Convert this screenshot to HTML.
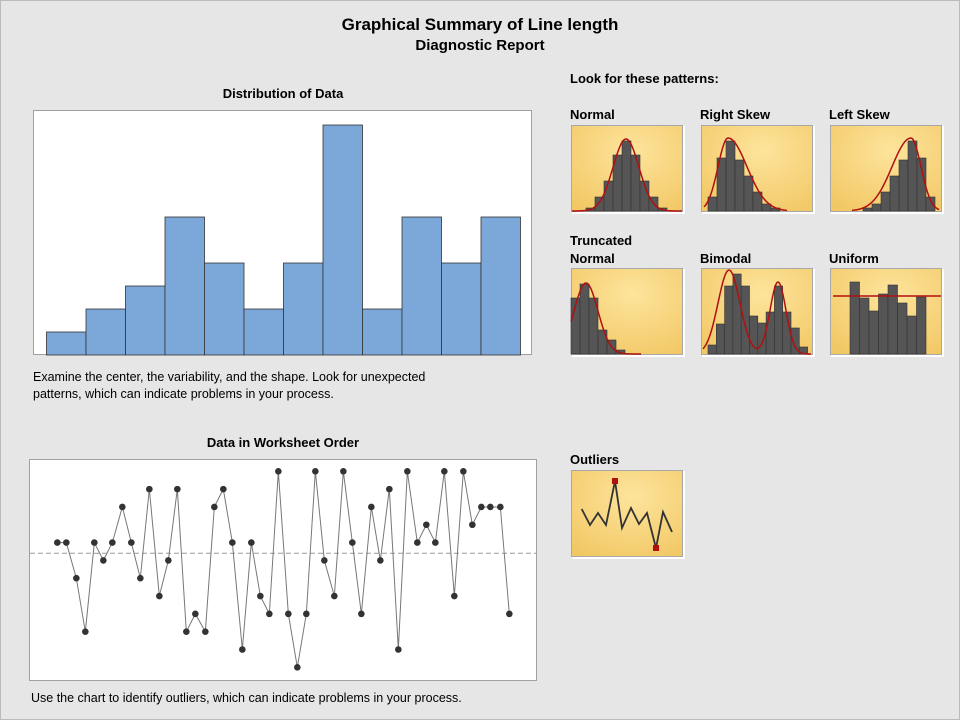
<!DOCTYPE html>
<html><head><meta charset="utf-8"><style>
body{margin:0;background:#e6e6e6;}
svg{display:block;font-family:"Liberation Sans",sans-serif;}
</style></head><body>
<svg id="s" width="960" height="720" viewBox="0 0 960 720" xmlns="http://www.w3.org/2000/svg">
<defs>
<radialGradient id="g" cx="0.55" cy="0.3" r="0.8">
<stop offset="0" stop-color="#fde49c"/><stop offset="1" stop-color="#f2c865"/>
</radialGradient>
</defs>
<rect x="0" y="0" width="960" height="720" fill="#e6e6e6"/>
<rect x="0.5" y="0.5" width="959" height="719" fill="none" stroke="#bbb"/>
<text x="480" y="30" text-anchor="middle" font-size="17" font-weight="bold">Graphical Summary of Line length</text>
<text x="480" y="50" text-anchor="middle" font-size="15" font-weight="bold">Diagnostic Report</text>
<text x="283" y="98" text-anchor="middle" font-size="13" font-weight="bold">Distribution of Data</text>
<rect x="33.5" y="110.5" width="498" height="244" fill="#fff" stroke="#a0a0a0"/>
<g id="hist"></g>
<text x="33" y="381" font-size="12.5">Examine the center, the variability, and the shape. Look for unexpected</text>
<text x="33" y="398" font-size="12.5">patterns, which can indicate problems in your process.</text>
<text x="283" y="447" text-anchor="middle" font-size="13" font-weight="bold">Data in Worksheet Order</text>
<rect x="29.5" y="459.5" width="507" height="221" fill="#fff" stroke="#a0a0a0"/>
<line x1="30" y1="553.3" x2="536" y2="553.3" stroke="#999" stroke-dasharray="5,3"/>
<g id="run"></g>
<text x="31" y="702" font-size="12.5">Use the chart to identify outliers, which can indicate problems in your process.</text>
<text x="570" y="83" font-size="13" font-weight="bold">Look for these patterns:</text>
<text x="570" y="119" font-size="13" font-weight="bold">Normal</text>
<text x="700" y="119" font-size="13" font-weight="bold">Right Skew</text>
<text x="829" y="119" font-size="13" font-weight="bold">Left Skew</text>
<text x="570" y="245" font-size="13" font-weight="bold">Truncated</text>
<text x="570" y="263" font-size="13" font-weight="bold">Normal</text>
<text x="700" y="263" font-size="13" font-weight="bold">Bimodal</text>
<text x="829" y="263" font-size="13" font-weight="bold">Uniform</text>
<text x="570" y="464" font-size="13" font-weight="bold">Outliers</text>
<g id="thumbs"></g>
</svg>
<script>
var NS="http://www.w3.org/2000/svg";
function el(p,t,a){var e=document.createElementNS(NS,t);for(var k in a)e.setAttribute(k,a[k]);p.appendChild(e);return e;}
var h=document.getElementById('hist');
var cnt=[1,2,3,6,4,2,4,10,2,6,4,6];
for(var i=0;i<12;i++){var x0=46+i*39.5;var ht=cnt[i]*23;
el(h,'rect',{x:x0+0.5,y:355-ht,width:39.5,height:ht,fill:'#7ba7d9',stroke:'#333','stroke-width':0.8});}
var r=document.getElementById('run');
var L=[4,4,6,9,4,5,4,2,4,6,1,7,5,1,9,8,9,2,1,4,10,4,7,8,0,8,11,8,0,5,7,0,4,8,2,5,1,10,0,4,3,4,0,7,0,3,2,2,2,8];
var xs=[88,115,145,172,199,226,253,283,310,337,364,394,421,448,475,502,532,559,586,613,643,670,697,724,751,781,808,835,862,889,919,946,973,1000,1030,1057,1084,1111,1138,1168,1195,1222,1249,1279,1306,1333,1360,1387,1417,1444];
var pts=[];for(i=0;i<50;i++){pts.push([28+xs[i]/3,471.3+L[i]*17.82]);}
el(r,'polyline',{points:pts.map(p=>p.join(',')).join(' '),fill:'none',stroke:'#777','stroke-width':1});
pts.forEach(p=>el(r,'circle',{cx:p[0],cy:p[1],r:3.3,fill:'#333'}));
var T=document.getElementById('thumbs');
function box(x,y){el(T,'rect',{x:x+1,y:y+1,width:113,height:88,fill:'#fff'});el(T,'rect',{x:x+0.5,y:y+0.5,width:111,height:86,fill:'url(#g)',stroke:'#a8a8a8'});}
function bars(x,y,x0,w,hs){var g=el(T,'g',{});hs.forEach((hh,i)=>el(g,'rect',{x:x+x0+i*w,y:y+86-hh,width:w,height:hh,fill:'#555',stroke:'#333','stroke-width':0.6}));}
function curve(x,y,f,a,b){var d='';for(var t=a;t<=b;t+=1){var v=f(t);d+=(d?'L':'M')+(x+t)+','+(y+86-v);}el(T,'path',{d:d,fill:'none',stroke:'#b01010','stroke-width':1.5});}
function G(t,m,s,hh){return hh*Math.exp(-(t-m)*(t-m)/(2*s*s));}
// Normal
box(571,125);bars(571,125,15,9,[3,14,30,56,70,56,30,14,3]);curve(571,125,t=>G(t,55,13,72),1,111);
// Right skew
box(701,125);bars(701,125,7,9,[14,53,70,51,35,19,7,3]);
function sk(t){return t<27?G(t,27,10,73):G(t,27,19,73);}
curve(701,125,sk,3,86);
// Left skew
box(830,125);bars(830,125,105-8*9,9,[3,7,19,35,51,70,53,14]);curve(830,125,t=>sk(108-t),22,109);
// Truncated
box(571,268);bars(571,268,0,9,[56,70,56,24,14,4]);curve(571,268,t=>G(t,15,12,71),0,70);
// Bimodal
box(701,268);bars(701,268,7,8.3,[9,30,68,80,68,38,31,42,68,42,26,7]);curve(701,268,t=>G(t,28,11,84)+G(t,77,8,72),2,110);
// Uniform
box(830,268);bars(830,268,20,9.5,[72,56,43,60,69,51,38,57]);el(T,'line',{x1:833,y1:296,x2:941,y2:296,stroke:'#b01010','stroke-width':1.5});
// Outliers
box(571,470);
var op=[[581.7,509],[590,525],[598,513],[606,525],[615,481],[622,528],[631,508],[639,524],[647,513],[656,548],[663,512],[672,532]];
el(T,'polyline',{points:op.map(p=>p.join(',')).join(' '),fill:'none',stroke:'#333','stroke-width':1.8});
el(T,'rect',{x:612,y:478,width:6,height:6,fill:'#b01010'});
el(T,'rect',{x:653,y:545,width:6,height:6,fill:'#b01010'});
</script>
</body></html>
